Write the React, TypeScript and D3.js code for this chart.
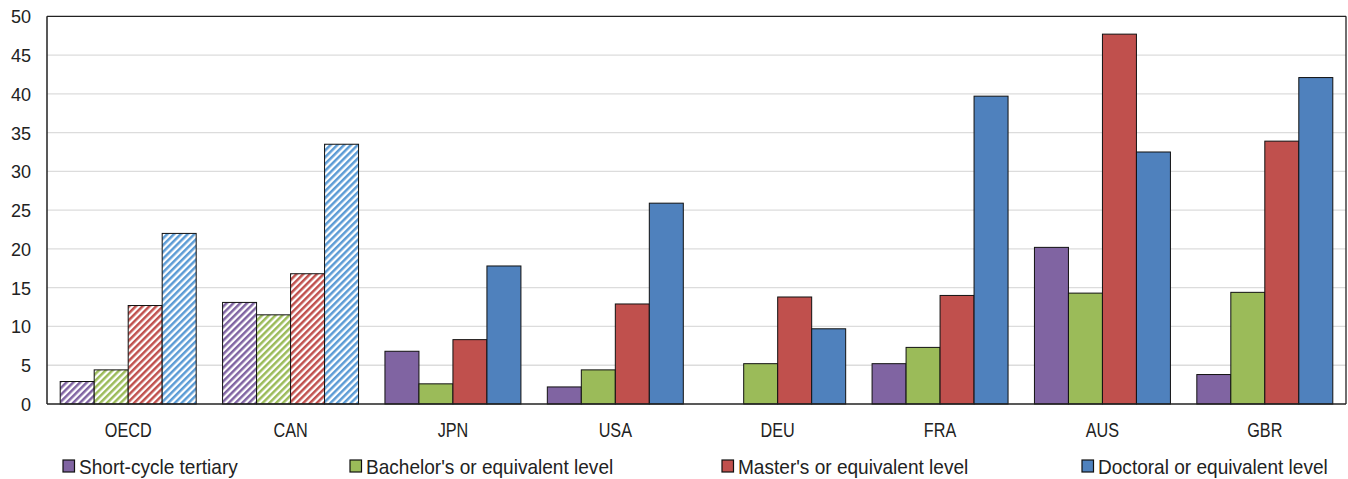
import React from "react";
import * as d3 from "d3";

const categories = ["OECD", "CAN", "JPN", "USA", "DEU", "FRA", "AUS", "GBR"];
const seriesNames = [
  "Short-cycle tertiary",
  "Bachelor's or equivalent level",
  "Master's or equivalent level",
  "Doctoral or equivalent level",
];
const shortCycle = [2.9, 13.1, 6.8, 2.2, 0, 5.2, 20.2, 3.8];
const bachelor = [4.4, 11.5, 2.6, 4.4, 5.2, 7.3, 14.3, 14.4];
const master = [12.7, 16.8, 8.3, 12.9, 13.8, 14.0, 47.7, 33.9];
const doctoral = [22.0, 33.5, 17.8, 25.9, 9.7, 39.7, 32.5, 42.1];
const hatchedCategories = ["OECD", "CAN"];
const yTicks = [0, 5, 10, 15, 20, 25, 30, 35, 40, 45, 50];

const colors = ["#8064A2", "#9BBB59", "#C0504D", "#4F81BD"];
const hatchColors = ["#8064A2", "#9BBB59", "#C0504D", "#5B9BD5"];

const W = 1348;
const H = 479;
const M = { left: 47, right: 2, top: 16.3, bottom: 75 };
const FONT = "'Liberation Sans', Arial, sans-serif";

function NText({
  x,
  y,
  anchor = "start",
  size = 18.5,
  sx = 0.85,
  children,
}: {
  x: number;
  y: number;
  anchor?: string;
  size?: number;
  sx?: number;
  children: React.ReactNode;
}) {
  return (
    <g transform={`translate(${x},${y}) scale(${sx},1)`}>
      <text x={0} y={0} textAnchor={anchor} fontSize={size} fill="#222">
        {children}
      </text>
    </g>
  );
}

export default function App() {
  const series = [shortCycle, bachelor, master, doctoral];
  const x0 = d3
    .scaleBand<string>()
    .domain(categories)
    .range([M.left, W - M.right])
    .paddingInner(26.4 / 162.4)
    .paddingOuter(13.2 / 162.4);
  const x1 = d3
    .scaleBand<number>()
    .domain([0, 1, 2, 3])
    .range([0, x0.bandwidth()])
    .padding(0);
  const y = d3.scaleLinear().domain([0, 50]).range([404, M.top]);
  const plotRight = W - M.right;

  const legendX = [63, 350, 722, 1082];

  return (
    <svg
      width={W}
      height={H}
      style={{ position: "absolute", left: 0, top: 0, fontFamily: FONT }}
    >
      <defs>
        {hatchColors.map((c, i) => (
          <pattern
            key={i}
            id={`hatch${i}`}
            width={4.8}
            height={4.8}
            patternUnits="userSpaceOnUse"
            patternTransform="rotate(45)"
          >
            <rect width={4.8} height={4.8} fill="#fff" />
            <rect width={2.5} height={4.8} fill={c} />
          </pattern>
        ))}
      </defs>
      <rect x={0} y={0} width={W} height={H} fill="#fff" />
      {yTicks.map((t) =>
        t === 0 || t === 50 ? null : (
          <line
            key={t}
            x1={M.left}
            x2={plotRight}
            y1={y(t)}
            y2={y(t)}
            stroke="#dcdcdc"
            strokeWidth={1.3}
          />
        )
      )}
      <line x1={M.left} x2={plotRight} y1={y(50)} y2={y(50)} stroke="#222" strokeWidth={1.3} />
      <line x1={plotRight} x2={plotRight} y1={y(50)} y2={y(0)} stroke="#222" strokeWidth={1.3} />
      {categories.map((cat, ci) => (
        <g key={cat} transform={`translate(${x0(cat)},0)`}>
          {series.map((vals, si) => {
            const v = vals[ci];
            if (!v) return null;
            const hatched = hatchedCategories.includes(cat);
            return (
              <rect
                key={si}
                x={x1(si)}
                y={y(v)}
                width={x1.bandwidth()}
                height={y(0) - y(v)}
                fill={hatched ? `url(#hatch${si})` : colors[si]}
                stroke="#111"
                strokeWidth={1}
              />
            );
          })}
        </g>
      ))}
      <line x1={M.left} x2={M.left} y1={y(50)} y2={y(0)} stroke="#222" strokeWidth={1.5} />
      <line x1={M.left} x2={plotRight} y1={y(0)} y2={y(0)} stroke="#222" strokeWidth={1.5} />
      {yTicks.map((t) => (
        <NText key={t} x={31} y={y(t) + 7} anchor="end" size={18.6} sx={0.97}>
          {t}
        </NText>
      ))}
      {categories.map((cat) => (
        <NText
          key={cat}
          x={(x0(cat) as number) + x0.bandwidth() / 2}
          y={437}
          anchor="middle"
          size={20.5}
          sx={0.79}
        >
          {cat}
        </NText>
      ))}
      {seriesNames.map((name, i) => (
        <g key={name}>
          <rect
            x={legendX[i]}
            y={460}
            width={11.5}
            height={12}
            fill={colors[i]}
            stroke="#111"
            strokeWidth={1.2}
          />
          <NText x={legendX[i] + 16} y={473.5} size={20.5} sx={0.93}>
            {name}
          </NText>
        </g>
      ))}
    </svg>
  );
}
